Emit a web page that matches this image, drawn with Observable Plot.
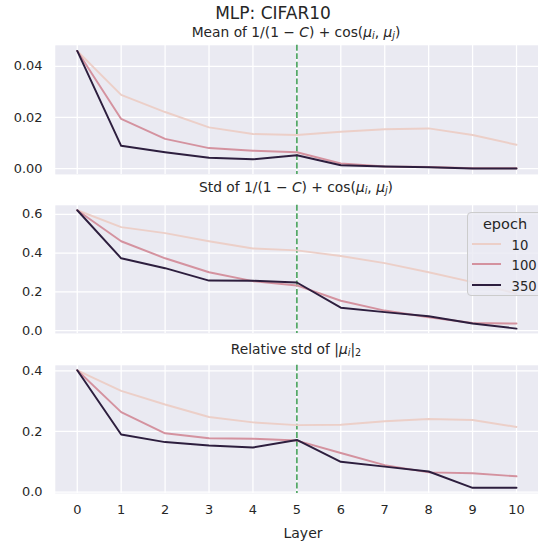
<!DOCTYPE html>
<html>
<head>
<meta charset="utf-8">
<script src="https://cdn.jsdelivr.net/npm/d3@7"></script>
<script src="https://cdn.jsdelivr.net/npm/@observablehq/plot@0.6"></script>
<style>
  html, body { margin: 0; padding: 0; background: #fff; overflow: hidden; }
  #root { position: relative; width: 538px; height: 542px; overflow: hidden; font-family: "DejaVu Sans", sans-serif; color: #262626; }
  .abs { position: absolute; }
  .ttl { position: absolute; white-space: nowrap; transform: translate(-50%, -50%); color: #262626; }
  .ttl i { font-style: italic; }
  .ttl sub { font-size: 0.7em; vertical-align: -0.25em; line-height: 0; }
  #legend { position: absolute; left: 467px; top: 212px; width: 80px; height: 84px; box-sizing: border-box;
            border: 1px solid #cccccc; border-radius: 4px; background: rgba(234,234,242,0.8); }
</style>
</head>
<body>
<div id="root"></div>
<script>
// ---- data ----
const layers = [0, 1, 2, 3, 4, 5, 6, 7, 8, 9, 10];
const epochs = [10, 100, 350];
const epochColors = ["#eccfc8", "#d4929f", "#2d1e3e"];

const meanE10  = [0.046, 0.0288, 0.0221, 0.0161, 0.0135, 0.0131, 0.0144, 0.0154, 0.0157, 0.0131, 0.0093];
const meanE100 = [0.046, 0.0194, 0.0116, 0.0080, 0.0070, 0.0064, 0.0020, 0.0008, 0.0006, 0.0001, 0.0001];
const meanE350 = [0.046, 0.0089, 0.0064, 0.0042, 0.0036, 0.0052, 0.0013, 0.0008, 0.0005, 0.0000, 0.0000];

const stdE10  = [0.621, 0.534, 0.503, 0.461, 0.424, 0.414, 0.385, 0.348, 0.301, 0.250, 0.190];
const stdE100 = [0.621, 0.461, 0.373, 0.301, 0.255, 0.233, 0.154, 0.103, 0.069, 0.039, 0.036];
const stdE350 = [0.621, 0.373, 0.322, 0.258, 0.257, 0.248, 0.118, 0.095, 0.074, 0.036, 0.010];

const relE10  = [0.402, 0.334, 0.289, 0.248, 0.230, 0.221, 0.222, 0.234, 0.241, 0.238, 0.215];
const relE100 = [0.402, 0.264, 0.194, 0.178, 0.176, 0.170, 0.129, 0.089, 0.065, 0.062, 0.052];
const relE350 = [0.402, 0.190, 0.165, 0.154, 0.147, 0.172, 0.100, 0.084, 0.068, 0.014, 0.014];

const meanTicks = [0, 0.02, 0.04];
const stdTicks = [0, 0.2, 0.4, 0.6];
const relTicks = [0, 0.2, 0.4];
const markerLayer = [5];

const suptitle = "MLP: CIFAR10";
const titleMean = 'Mean of 1/(1 − <i>C</i>) + cos(<i>μ</i><sub><i>i</i></sub>, <i>μ</i><sub><i>j</i></sub>)';
const titleStd  = 'Std of 1/(1 − <i>C</i>) + cos(<i>μ</i><sub><i>i</i></sub>, <i>μ</i><sub><i>j</i></sub>)';
const titleRel  = 'Relative std of |<i>μ</i><sub><i>i</i></sub>|<sub>2</sub>';
const xLabel = "Layer";
const legendTitle = "epoch";

function toRows(series) {
  const rows = [];
  series.forEach((vals, k) => vals.forEach((v, i) => rows.push({layer: layers[i], epoch: epochs[k], value: v})));
  return rows;
}

const root = document.getElementById("root");

function addText(html, x, y, size) {
  const d = document.createElement("div");
  d.className = "ttl";
  d.style.left = x + "px";
  d.style.top = y + "px";
  d.style.fontSize = size + "px";
  d.innerHTML = html;
  root.appendChild(d);
}

const ML = 56, FULLW = 550;

function panel(series, yDomain, ticks, fmt, frameTop, frameH, showX) {
  const mt = 8, mb = showX ? 46 : 8;
  const rows = toRows(series);
  const chart = Plot.plot({
    width: FULLW,
    height: frameH + mt + mb,
    marginLeft: ML, marginRight: 0, marginTop: mt, marginBottom: mb,
    style: {fontFamily: "DejaVu Sans, sans-serif", fontSize: "13.2px", color: "#262626", background: "transparent"},
    x: {domain: [-0.5, 10.5], label: null, axis: null},
    y: {domain: yDomain, label: null, axis: null},
    color: {domain: epochs, range: epochColors},
    marks: [
      Plot.frame({fill: "#eaeaf2", stroke: null}),
      Plot.ruleX(layers, {stroke: "#ffffff", strokeWidth: 1.3}),
      Plot.ruleY(ticks, {stroke: "#ffffff", strokeWidth: 1.3}),
      Plot.ruleX(markerLayer, {stroke: "#55a868", strokeWidth: 1.8, strokeDasharray: "6,2.6"}),
      Plot.line(rows, {x: "layer", y: "value", z: "epoch", stroke: "epoch", strokeWidth: 2}),
      Plot.text(ticks, {x: -0.5, y: d => d, text: d => fmt(d), textAnchor: "end", dx: -13, fontSize: 13.2, fill: "#262626"}),
      showX ? Plot.text(layers, {x: d => d, frameAnchor: "bottom", text: d => String(d), dy: 21, fontSize: 13.2, fill: "#262626"}) : null
    ]
  });
  chart.classList.add("abs");
  chart.style.left = "0px";
  chart.style.top = (frameTop - mt) + "px";
  root.appendChild(chart);
}

panel([meanE10, meanE100, meanE350], [-0.0023, 0.0482], meanTicks, d3.format(".2f"), 45, 132, false);
panel([stdE10, stdE100, stdE350], [-0.015, 0.6466], stdTicks, d3.format(".1f"), 205, 131, false);
panel([relE10, relE100, relE350], [-0.0045, 0.4184], relTicks, d3.format(".1f"), 365, 131, true);

addText(suptitle, 273, 13, 17);
addText(titleMean, 296, 32, 13.8);
addText(titleStd, 296, 187, 13.8);
addText(titleRel, 296, 349, 13.8);
addText(xLabel, 303, 533, 14);

// legend
const leg = document.createElement("div");
leg.id = "legend";
root.appendChild(leg);
const lt = document.createElement("div");
lt.className = "ttl";
lt.style.left = (504 - 467) + "px"; lt.style.top = (223 - 212) + "px"; lt.style.fontSize = "14.5px";
lt.textContent = legendTitle;
leg.appendChild(lt);
epochs.forEach((e, k) => {
  const y = 244 + k * 20.3 - 212;
  const ln = document.createElement("div");
  ln.style.cssText = `position:absolute;left:${471-467}px;top:${y-1-1}px;width:29px;height:2px;background:${epochColors[k]};`;
  leg.appendChild(ln);
  const tx = document.createElement("div");
  tx.style.cssText = `position:absolute;left:${510.5-467}px;top:${y}px;transform:translateY(-50%);font-size:13.2px;white-space:nowrap;`;
  tx.textContent = String(e);
  leg.appendChild(tx);
});
</script>
</body>
</html>
